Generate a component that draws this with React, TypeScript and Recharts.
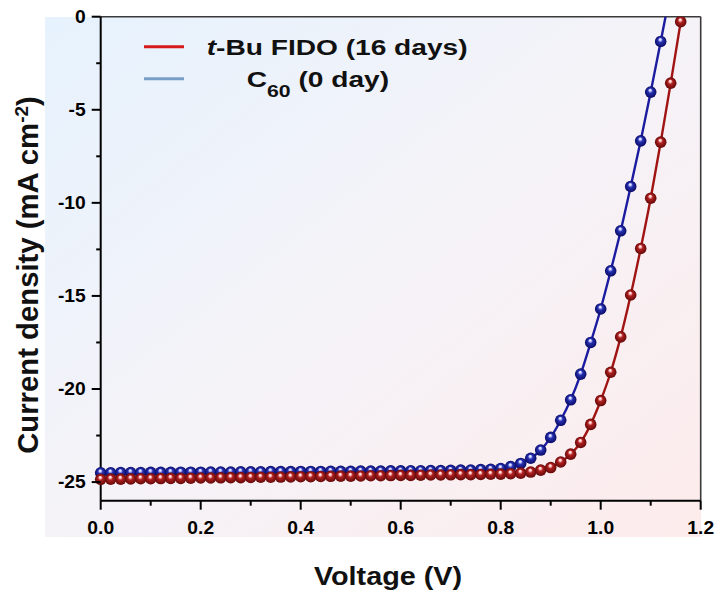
import React from 'react';
import { LineChart, Line, XAxis, YAxis, ReferenceLine, Label } from 'recharts';

const voltage = [
  0.0, 0.02, 0.04, 0.06, 0.08, 0.1, 0.12, 0.14, 0.16, 0.18,
  0.2, 0.22, 0.24, 0.26, 0.28, 0.3, 0.32, 0.34, 0.36, 0.38,
  0.4, 0.42, 0.44, 0.46, 0.48, 0.5, 0.52, 0.54, 0.56, 0.58,
  0.6, 0.62, 0.64, 0.66, 0.68, 0.7, 0.72, 0.74, 0.76, 0.78,
  0.8, 0.82, 0.84, 0.86, 0.88, 0.9, 0.92, 0.94, 0.96, 0.98,
  1.0, 1.02, 1.04, 1.06, 1.08, 1.1, 1.12, 1.14, 1.16,
];

// C60 (0 day)
const c60Current = [
  -24.5, -24.5, -24.49, -24.49, -24.49, -24.48, -24.48, -24.48, -24.47, -24.47,
  -24.47, -24.46, -24.46, -24.46, -24.45, -24.45, -24.45, -24.44, -24.44, -24.44,
  -24.43, -24.43, -24.43, -24.42, -24.42, -24.42, -24.41, -24.41, -24.41, -24.4,
  -24.4, -24.39, -24.39, -24.38, -24.38, -24.37, -24.36, -24.35, -24.33, -24.31,
  -24.27, -24.17, -24.0, -23.72, -23.28, -22.6, -21.68, -20.58, -19.2, -17.5,
  -15.7, -13.65, -11.5, -9.12, -6.67, -4.05, -1.33, 1.4,
];

// t-Bu FIDO (16 days)
const tbuCurrent = [
  -24.85, -24.84, -24.84, -24.83, -24.82, -24.82, -24.81, -24.8, -24.8, -24.79,
  -24.78, -24.78, -24.77, -24.76, -24.76, -24.75, -24.74, -24.74, -24.73, -24.72,
  -24.71, -24.71, -24.7, -24.69, -24.68, -24.68, -24.67, -24.66, -24.66, -24.65,
  -24.64, -24.64, -24.63, -24.62, -24.62, -24.61, -24.6, -24.6, -24.59, -24.58,
  -24.57, -24.55, -24.52, -24.46, -24.36, -24.22, -23.92, -23.5, -22.87, -21.9,
  -20.62, -19.1, -17.2, -14.95, -12.45, -9.75, -6.74, -3.57, -0.27,
];

const xTicks = [0.0, 0.1, 0.2, 0.3, 0.4, 0.5, 0.6, 0.7, 0.8, 0.9, 1.0, 1.1, 1.2];
const yTicks = [0, -2.5, -5, -7.5, -10, -12.5, -15, -17.5, -20, -22.5, -25];

const data = voltage.map((v, i) => ({
  v,
  c60: i < c60Current.length ? c60Current[i] : null,
  tbu: i < tbuCurrent.length ? tbuCurrent[i] : null,
}));

const FONT = '"Liberation Sans", Arial, Helvetica, sans-serif';

const XTick = (props: any) => {
  const { x, y, payload } = props;
  const v = payload.value as number;
  const major = Math.round(v * 10) % 2 === 0;
  return (
    <g>
      <line x1={x} x2={x} y1={y} y2={y + (major ? 9 : 5)} stroke="#000" strokeWidth={2} />
      {major && (
        <g transform={`translate(${x},${y + 33}) scale(1.1,1)`}>
          <text x={0} y={0} textAnchor="middle" fontSize={17.5} fontWeight="bold" fontFamily={FONT} fill="#000">
            {v.toFixed(1)}
          </text>
        </g>
      )}
    </g>
  );
};

const YTick = (props: any) => {
  const { x, y, payload } = props;
  const v = payload.value as number;
  const major = Math.abs(v % 5) < 1e-9;
  return (
    <g>
      <line x1={x - (major ? 9 : 4.5)} x2={x} y1={y} y2={y} stroke="#000" strokeWidth={2} />
      {major && (
        <g transform={`translate(${x - 15},${y + 6.3}) scale(1.1,1)`}>
          <text x={0} y={0} textAnchor="end" fontSize={17.5} fontWeight="bold" fontFamily={FONT} fill="#000">
            {String(v)}
          </text>
        </g>
      )}
    </g>
  );
};

const makeDot = (grad: string, prefix: string) => (p: any) => {
  if (p.cy == null || p.cx == null || Number.isNaN(p.cy)) return <g key={`${prefix}${p.index}`} />;
  return <circle key={`${prefix}${p.index}`} cx={p.cx} cy={p.cy} r={5.8} fill={`url(#${grad})`} />;
};

export default function App() {
  return (
    <div style={{ position: 'absolute', left: 0, top: 0, width: 715, height: 594, background: '#fff' }}>
      <div
        style={{
          position: 'absolute',
          left: 45,
          top: 17,
          width: 656,
          height: 520,
          background: 'linear-gradient(to bottom right, #e6f2fd 0%, #f5f3f8 50%, #fdebeb 100%)',
        }}
      />
      <div style={{ position: 'absolute', left: 0, top: 0 }}>
        <LineChart
          width={715}
          height={594}
          data={data}
          margin={{ top: 16.7, right: 14.3, left: 40.7, bottom: 53.3 }}
        >
          <defs>
            <radialGradient id="gBlue" cx="0.5" cy="0.5" r="0.5" fx="0.45" fy="0.3">
              <stop offset="0%" stopColor="#ffffff" />
              <stop offset="18%" stopColor="#c6caff" />
              <stop offset="42%" stopColor="#2630b0" />
              <stop offset="100%" stopColor="#0a0a64" />
            </radialGradient>
            <radialGradient id="gRed" cx="0.5" cy="0.5" r="0.5" fx="0.45" fy="0.3">
              <stop offset="0%" stopColor="#ffffff" />
              <stop offset="18%" stopColor="#ffc6c6" />
              <stop offset="42%" stopColor="#ae2020" />
              <stop offset="100%" stopColor="#640808" />
            </radialGradient>
          </defs>
          <XAxis
            type="number"
            dataKey="v"
            domain={[0, 1.2]}
            ticks={xTicks}
            interval={0}
            tick={<XTick />}
            tickLine={false}
            tickSize={0}
            tickMargin={0}
            height={40}
            axisLine={{ stroke: '#000', strokeWidth: 2 }}
          >
            <Label
              content={() => (
                <g transform="translate(388,585) scale(1.13,1)">
                  <text x={0} y={0} textAnchor="middle" fontSize={25.5} fontWeight="bold" fontFamily={FONT} fill="#111">
                    Voltage (V)
                  </text>
                </g>
              )}
            />
          </XAxis>
          <YAxis
            type="number"
            domain={[-26, 0]}
            ticks={yTicks}
            interval={0}
            allowDataOverflow
            tick={<YTick />}
            tickLine={false}
            tickSize={0}
            tickMargin={0}
            width={60}
            axisLine={{ stroke: '#000', strokeWidth: 2 }}
          >
            <Label
              content={() => (
                <g transform="translate(37.5,275) rotate(-90)">
                  <text x={0} y={0} textAnchor="middle" fontSize={29.3} fontWeight="bold" fontFamily={FONT} fill="#111">
                    Current density (mA cm
                    <tspan dy={-10} fontSize={19}>-2</tspan>
                    <tspan dy={10}>)</tspan>
                  </text>
                </g>
              )}
            />
          </YAxis>
          <ReferenceLine y={0} stroke="#3a3a3a" strokeWidth={1.6} />
          <ReferenceLine x={1.2} stroke="#3a3a3a" strokeWidth={1.6} />
          <Line
            type="monotone"
            dataKey="c60"
            stroke="#1c1ca0"
            strokeWidth={2.4}
            dot={makeDot('gBlue', 'b')}
            activeDot={false}
            isAnimationActive={false}
          />
          <Line
            type="monotone"
            dataKey="tbu"
            stroke="#a01414"
            strokeWidth={2.4}
            dot={makeDot('gRed', 'r')}
            activeDot={false}
            isAnimationActive={false}
          />
          <g>
            <line x1={144} x2={184} y1={46.7} y2={46.7} stroke="#d41a1a" strokeWidth={3} />
            <g transform="translate(206.7,55) scale(1.25,1)">
              <text x={0} y={0} fontSize={22.5} fontWeight="bold" fontFamily={FONT} fill="#111">
                <tspan fontStyle="italic">t</tspan>-Bu FIDO (16 days)
              </text>
            </g>
            <line x1={144} x2={184} y1={78.7} y2={78.7} stroke="#789ec8" strokeWidth={3} />
            <g transform="translate(246.7,87.3) scale(1.25,1)">
              <text x={0} y={0} fontSize={22.5} fontWeight="bold" fontFamily={FONT} fill="#111">
                C<tspan dy={9.5} fontSize={17}>60</tspan>
                <tspan dy={-9.5}> (0 day)</tspan>
              </text>
            </g>
          </g>
        </LineChart>
      </div>
    </div>
  );
}
